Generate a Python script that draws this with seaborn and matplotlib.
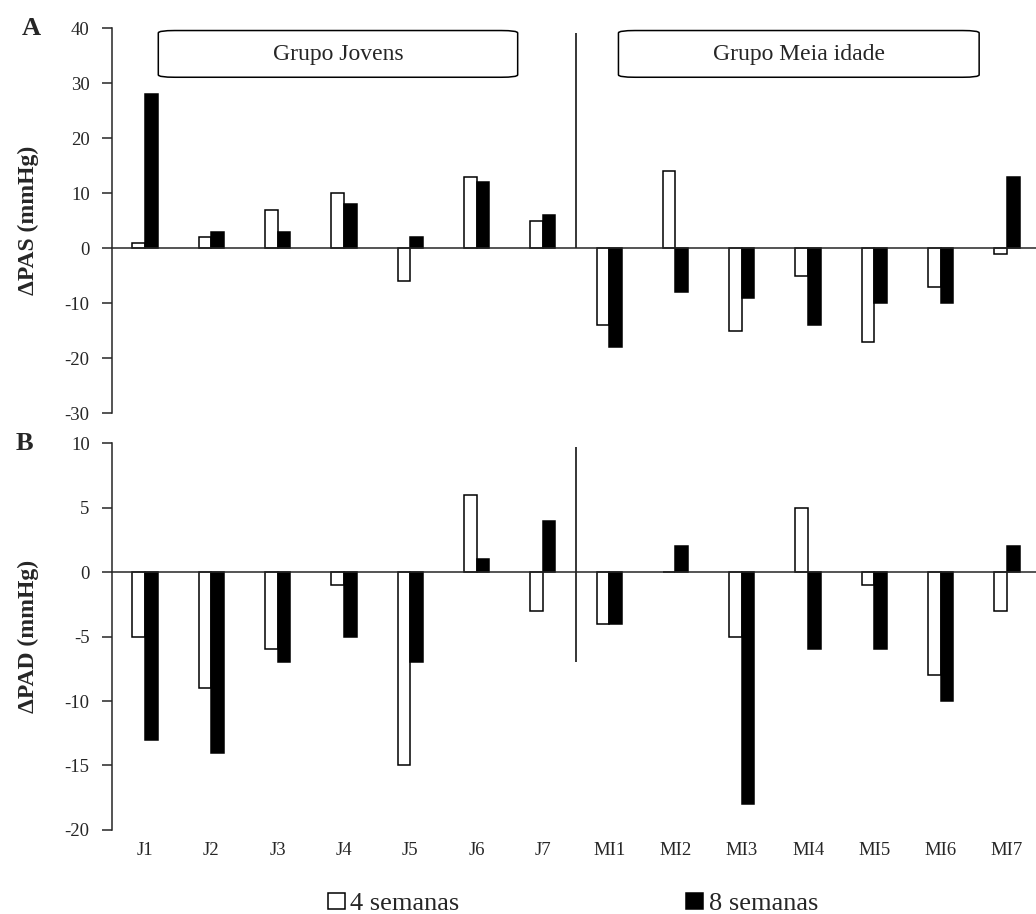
import numpy as np
import pandas as pd
import matplotlib.pyplot as plt
import seaborn as sns
from matplotlib.patches import FancyBboxPatch

# categories
jovens = ["J1", "J2", "J3", "J4", "J5", "J6", "J7"]
meia = ["MI1", "MI2", "MI3", "MI4", "MI5", "MI6", "MI7"]
sujeitos = jovens + meia
periodos = ["4 semanas", "8 semanas"]

# ΔPAS (mmHg)
pas_4 = [1, 2, 7, 10, -6, 13, 5, -14, 14, -15, -5, -17, -7, -1]
pas_8 = [28, 3, 3, 8, 2, 12, 6, -18, -8, -9, -14, -10, -10, 13]

# ΔPAD (mmHg)
pad_4 = [-5, -9, -6, -1, -15, 6, -3, -4, 0, -5, 5, -1, -8, -3]
pad_8 = [-13, -14, -7, -5, -7, 1, 4, -4, 2, -18, -6, -6, -10, 2]

df = pd.DataFrame({
    "sujeito": sujeitos * 2,
    "periodo": [periodos[0]] * len(sujeitos) + [periodos[1]] * len(sujeitos),
    "PAS": pas_4 + pas_8,
    "PAD": pad_4 + pad_8,
})

sns.set_style("white")
plt.rcParams["font.family"] = ["Liberation Serif", "DejaVu Serif"]
plt.rcParams["axes.unicode_minus"] = False

fig = plt.figure(figsize=(10.36, 9.14), dpi=100)
ax1 = fig.add_axes([0.108, 0.548, 0.896, 0.421])
ax2 = fig.add_axes([0.108, 0.092, 0.896, 0.423])

pal = {"4 semanas": "white", "8 semanas": "black"}
n = len(sujeitos)
divisor = len(jovens) - 0.5


def painel(ax, col, ylim, step, ylabel, labels):
    sns.barplot(data=df, x="sujeito", y=col, hue="periodo", order=sujeitos,
                hue_order=periodos, palette=pal, edgecolor="black", linewidth=1.1,
                width=0.38, ax=ax, legend=False, errorbar=None)
    ax.set_xlim(-0.5, n - 0.5)
    ax.set_ylim(*ylim)
    ax.set_yticks(np.arange(ylim[0], ylim[1] + 0.1, step))
    for s in ["top", "right"]:
        ax.spines[s].set_visible(False)
    ax.spines["left"].set_linewidth(1.1)
    ax.spines["bottom"].set_position(("data", 0))
    ax.spines["bottom"].set_linewidth(1.1)
    ax.set_xticks(np.arange(n))
    ax.set_xticklabels([])
    ax.set_xticks(np.arange(n) + 0.5, minor=True)
    ax.tick_params(axis="x", which="major", length=0)
    ax.tick_params(axis="x", which="minor", length=4.5, direction="out", width=1.1)
    ax.tick_params(axis="y", length=7, direction="out", width=1.1, left=True,
                   labelsize=13.5, pad=9)
    ax.set_xlabel("")
    ax.set_ylabel(ylabel, fontsize=17, fontweight="bold")
    ax.yaxis.set_label_coords(-0.078, 0.5)
    if labels:
        sec = ax.secondary_xaxis("bottom")
        sec.set_xticks(np.arange(n))
        sec.set_xticklabels(sujeitos, fontsize=13.5)
        sec.tick_params(length=0, pad=9)
        sec.spines["bottom"].set_visible(False)


painel(ax1, "PAS", (-30, 40), 10, "ΔPAS (mmHg)", False)
painel(ax2, "PAD", (-20, 10), 5, "ΔPAD (mmHg)", True)

# divider between groups
ax1.vlines(divisor, 0, 39.1, color="black", lw=1.1)
ax2.vlines(divisor, -7, 9.7, color="black", lw=1.1)

# group label boxes
for x0, x1, txt in [(0.2, 5.62, "Grupo Jovens"), (7.14, 12.58, "Grupo Meia idade")]:
    box = FancyBboxPatch((x0, 31.1), x1 - x0, 8.5,
                         boxstyle="round,pad=0,rounding_size=0.25",
                         mutation_aspect=70 / 14 * 0.35,
                         fc="white", ec="black", lw=1.1, clip_on=False)
    ax1.add_patch(box)
    ax1.text((x0 + x1) / 2, 35.3, txt, ha="center", va="center", fontsize=17)

fig.text(0.021, 0.969, "A", fontsize=19, fontweight="bold", va="center")
fig.text(0.015, 0.515, "B", fontsize=19, fontweight="bold", va="center")

handles = [plt.Rectangle((0, 0), 1, 1, fc=pal[p], ec="black", lw=1.1) for p in periodos]
fig.legend(handles, periodos, loc="lower center", bbox_to_anchor=(0.553, -0.027),
           ncol=2, frameon=False, fontsize=19, handlelength=0.65, handleheight=0.55,
           handletextpad=0.2, columnspacing=8.6)

fig.savefig("out.png", dpi=100)
